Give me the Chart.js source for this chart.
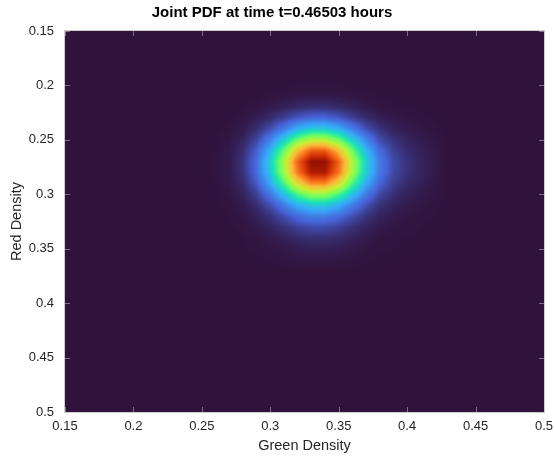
<!DOCTYPE html>
<html>
<head>
<meta charset="utf-8">
<title>Joint PDF</title>
<script src="https://cdn.jsdelivr.net/npm/chart.js@4.4.1/dist/chart.umd.min.js"></script>
<style>
    html, body { margin: 0; padding: 0; background: #ffffff; }
    #wrap { width: 554px; height: 457px; }
</style>
</head>
<body>
<div id="wrap"><canvas id="pdfChart" width="554" height="457"></canvas></div>
<script>
//--- Data (normalised density)
var greenDensity = [0.26, 0.27, 0.28, 0.29, 0.30, 0.31, 0.32, 0.33, 0.34, 0.35, 0.36, 0.37, 0.38, 0.39, 0.40, 0.41, 0.42];
var redDensity = [0.20, 0.21, 0.22, 0.23, 0.24, 0.25, 0.26, 0.27, 0.28, 0.29, 0.30, 0.31, 0.32, 0.33, 0.34, 0.35, 0.36];
// one row per redDensity value, one column per greenDensity value
var pdfRows = [
    [0, 0, 0, 0, 0.001, 0.001, 0.002, 0.002, 0.002, 0.002, 0.001, 0.001, 0, 0, 0, 0, 0],
    [0, 0, 0, 0.001, 0.003, 0.006, 0.009, 0.011, 0.011, 0.009, 0.006, 0.003, 0.002, 0.001, 0, 0, 0],
    [0, 0, 0.002, 0.005, 0.012, 0.021, 0.033, 0.040, 0.040, 0.033, 0.022, 0.012, 0.006, 0.003, 0.002, 0.001, 0],
    [0, 0.001, 0.006, 0.016, 0.036, 0.064, 0.098, 0.120, 0.120, 0.098, 0.065, 0.037, 0.018, 0.010, 0.006, 0.003, 0.001],
    [0.001, 0.003, 0.013, 0.038, 0.084, 0.151, 0.233, 0.284, 0.284, 0.233, 0.154, 0.087, 0.044, 0.023, 0.013, 0.007, 0.003],
    [0.002, 0.007, 0.025, 0.071, 0.159, 0.285, 0.439, 0.535, 0.535, 0.439, 0.291, 0.165, 0.082, 0.044, 0.025, 0.014, 0.007],
    [0.002, 0.010, 0.037, 0.107, 0.240, 0.430, 0.661, 0.805, 0.805, 0.661, 0.438, 0.248, 0.124, 0.066, 0.037, 0.021, 0.010],
    [0.003, 0.012, 0.045, 0.129, 0.287, 0.515, 0.792, 0.965, 0.965, 0.792, 0.525, 0.297, 0.149, 0.079, 0.045, 0.025, 0.012],
    [0.003, 0.011, 0.043, 0.124, 0.277, 0.496, 0.763, 0.930, 0.930, 0.763, 0.506, 0.286, 0.143, 0.076, 0.043, 0.024, 0.011],
    [0.002, 0.009, 0.034, 0.098, 0.220, 0.394, 0.606, 0.738, 0.738, 0.606, 0.401, 0.227, 0.114, 0.061, 0.034, 0.019, 0.009],
    [0.001, 0.006, 0.022, 0.064, 0.144, 0.258, 0.397, 0.484, 0.484, 0.397, 0.263, 0.149, 0.074, 0.040, 0.022, 0.012, 0.006],
    [0.001, 0.003, 0.013, 0.037, 0.084, 0.150, 0.230, 0.281, 0.281, 0.230, 0.153, 0.086, 0.043, 0.023, 0.013, 0.007, 0.003],
    [0, 0.002, 0.007, 0.021, 0.046, 0.083, 0.127, 0.155, 0.155, 0.127, 0.084, 0.048, 0.024, 0.013, 0.007, 0.004, 0.002],
    [0, 0.001, 0.004, 0.011, 0.024, 0.043, 0.066, 0.080, 0.080, 0.066, 0.043, 0.025, 0.012, 0.007, 0.004, 0.002, 0.001],
    [0, 0, 0.002, 0.005, 0.012, 0.021, 0.033, 0.040, 0.040, 0.033, 0.022, 0.012, 0.006, 0.003, 0.002, 0.001, 0],
    [0, 0, 0.001, 0.003, 0.006, 0.010, 0.016, 0.020, 0.020, 0.016, 0.011, 0.006, 0.003, 0.002, 0.001, 0, 0],
    [0, 0, 0, 0.001, 0.003, 0.005, 0.008, 0.009, 0.009, 0.008, 0.005, 0.003, 0.001, 0.001, 0, 0, 0]
];
var xTicks = [0.15, 0.2, 0.25, 0.3, 0.35, 0.4, 0.45, 0.5];
var xTickLabels = ['0.15', '0.2', '0.25', '0.3', '0.35', '0.4', '0.45', '0.5'];
var yTicks = [0.15, 0.2, 0.25, 0.3, 0.35, 0.4, 0.45, 0.5];
var yTickLabels = ['0.15', '0.2', '0.25', '0.3', '0.35', '0.4', '0.45', '0.5'];

// colour limits (peak of the density sits between grid nodes)
var colorMin = 0;
var colorMax = 1;

// turbo colormap key colours
var turboStops = ['#30123b', '#4662d7', '#36aaf9', '#1ae4b6', '#72fe5e', '#c8ef34', '#faba39', '#f66b19', '#cb2a04', '#7a0403'];

var textColor = '#262626';
var fontFamily = '"Liberation Sans", Arial, Helvetica, sans-serif';

//--- Helpers
function hexToRgb(hex) {
    return [parseInt(hex.substr(1, 2), 16), parseInt(hex.substr(3, 2), 16), parseInt(hex.substr(5, 2), 16)];
}
var turboRgb = turboStops.map(hexToRgb);

function turbo(t) {
    t = Math.max(0, Math.min(1, t));
    var pos = t * (turboRgb.length - 1);
    var i = Math.min(Math.floor(pos), turboRgb.length - 2);
    var f = pos - i;
    var a = turboRgb[i], b = turboRgb[i + 1];
    return [a[0] + (b[0] - a[0]) * f, a[1] + (b[1] - a[1]) * f, a[2] + (b[2] - a[2]) * f];
}

function cell(row, col) {
    if (row < 0 || row >= pdfRows.length || col < 0 || col >= pdfRows[0].length) return 0;
    return pdfRows[row][col];
}

// shaded sample between grid nodes (like shading interp)
function sampleGrid(fc, fr) {
    var c0 = Math.floor(fc), r0 = Math.floor(fr);
    var tc = fc - c0, tr = fr - r0;
    var top = cell(r0, c0) * (1 - tc) + cell(r0, c0 + 1) * tc;
    var bot = cell(r0 + 1, c0) * (1 - tc) + cell(r0 + 1, c0 + 1) * tc;
    return top * (1 - tr) + bot * tr;
}

//--- Plugins
var heatmapPlugin = {
    id: 'heatmap',
    beforeDatasetsDraw: function (chart) {
        var ctx = chart.ctx, area = chart.chartArea;
        var xs = chart.scales.x, ys = chart.scales.y;
        var left = Math.round(area.left), top = Math.round(area.top);
        var w = Math.round(area.right) - left, h = Math.round(area.bottom) - top;
        var img = ctx.createImageData(w, h);
        var stepX = greenDensity[1] - greenDensity[0];
        var stepY = redDensity[1] - redDensity[0];
        for (var py = 0; py < h; py++) {
            var fr = (ys.getValueForPixel(top + py + 0.5) - redDensity[0]) / stepY;
            for (var px = 0; px < w; px++) {
                var fc = (xs.getValueForPixel(left + px + 0.5) - greenDensity[0]) / stepX;
                var c = turbo((sampleGrid(fc, fr) - colorMin) / (colorMax - colorMin));
                var k = (py * w + px) * 4;
                img.data[k] = c[0];
                img.data[k + 1] = c[1];
                img.data[k + 2] = c[2];
                img.data[k + 3] = 255;
            }
        }
        ctx.putImageData(img, left, top);
    },
    afterDatasetsDraw: function (chart) {
        var ctx = chart.ctx, a = chart.chartArea;
        var xs = chart.scales.x, ys = chart.scales.y;
        ctx.save();
        ctx.strokeStyle = 'rgba(190,190,190,0.55)';
        ctx.lineWidth = 1;
        ctx.beginPath();
        xTicks.forEach(function (v) {
            var x = Math.round(xs.getPixelForValue(v)) + 0.5;
            ctx.moveTo(x, a.top); ctx.lineTo(x, a.top + 5);
            ctx.moveTo(x, a.bottom); ctx.lineTo(x, a.bottom - 5);
        });
        yTicks.forEach(function (v) {
            var y = Math.round(ys.getPixelForValue(v)) + 0.5;
            ctx.moveTo(a.left, y); ctx.lineTo(a.left + 5, y);
            ctx.moveTo(a.right, y); ctx.lineTo(a.right - 5, y);
        });
        ctx.stroke();
        ctx.strokeStyle = 'rgba(200,200,200,0.9)';
        ctx.strokeRect(Math.round(a.left) - 0.5, Math.round(a.top) - 0.5, Math.round(a.right - a.left) + 1, Math.round(a.bottom - a.top) + 1);
        ctx.restore();
    }
};

//--- Chart
function createChart() {
    var points = [];
    redDensity.forEach(function (r, i) {
        greenDensity.forEach(function (g, j) {
            points.push({ x: g, y: r, v: pdfRows[i][j] });
        });
    });

    new Chart(document.getElementById('pdfChart'), {
        type: 'scatter',
        data: {
            datasets: [{
                label: 'Joint PDF',
                data: points,
                pointRadius: 0,
                pointHoverRadius: 0
            }]
        },
        options: {
            responsive: false,
            animation: false,
            layout: { padding: { left: 0, right: 10, top: 0, bottom: 0 } },
            plugins: {
                legend: { display: false },
                tooltip: { enabled: false },
                title: {
                    display: true,
                    text: 'Joint PDF at time t=0.46503 hours',
                    color: '#000000',
                    font: { family: fontFamily, size: 15, weight: 'bold' },
                    padding: { top: 4, bottom: 9 }
                }
            },
            scales: {
                x: {
                    type: 'linear',
                    min: 0.15,
                    max: 0.5,
                    afterBuildTicks: function (s) { s.ticks = xTicks.map(function (v) { return { value: v }; }); },
                    afterFit: function (s) { s.height = 45; s.paddingLeft = 0; s.paddingRight = 0; },
                    grid: { display: false, drawTicks: false },
                    border: { display: false },
                    ticks: {
                        color: textColor,
                        font: { family: fontFamily, size: 13 },
                        padding: 7,
                        maxRotation: 0,
                        callback: function (v, i) { return xTickLabels[i]; }
                    },
                    title: {
                        display: true,
                        text: 'Green Density',
                        color: textColor,
                        font: { family: fontFamily, size: 14.5 },
                        padding: { top: 0, bottom: 2 }
                    }
                },
                y: {
                    type: 'linear',
                    reverse: true,
                    min: 0.15,
                    max: 0.5,
                    afterBuildTicks: function (s) { s.ticks = yTicks.map(function (v) { return { value: v }; }); },
                    afterFit: function (s) { s.width = 65; s.paddingTop = 0; s.paddingBottom = 0; },
                    grid: { display: false, drawTicks: false },
                    border: { display: false },
                    ticks: {
                        color: textColor,
                        font: { family: fontFamily, size: 13 },
                        padding: 11,
                        callback: function (v, i) { return yTickLabels[i]; }
                    },
                    title: {
                        display: true,
                        text: 'Red Density',
                        color: textColor,
                        font: { family: fontFamily, size: 14.5 },
                        padding: { top: 8, bottom: 0 }
                    }
                }
            }
        },
        plugins: [heatmapPlugin]
    });
}

createChart();
</script>
</body>
</html>
